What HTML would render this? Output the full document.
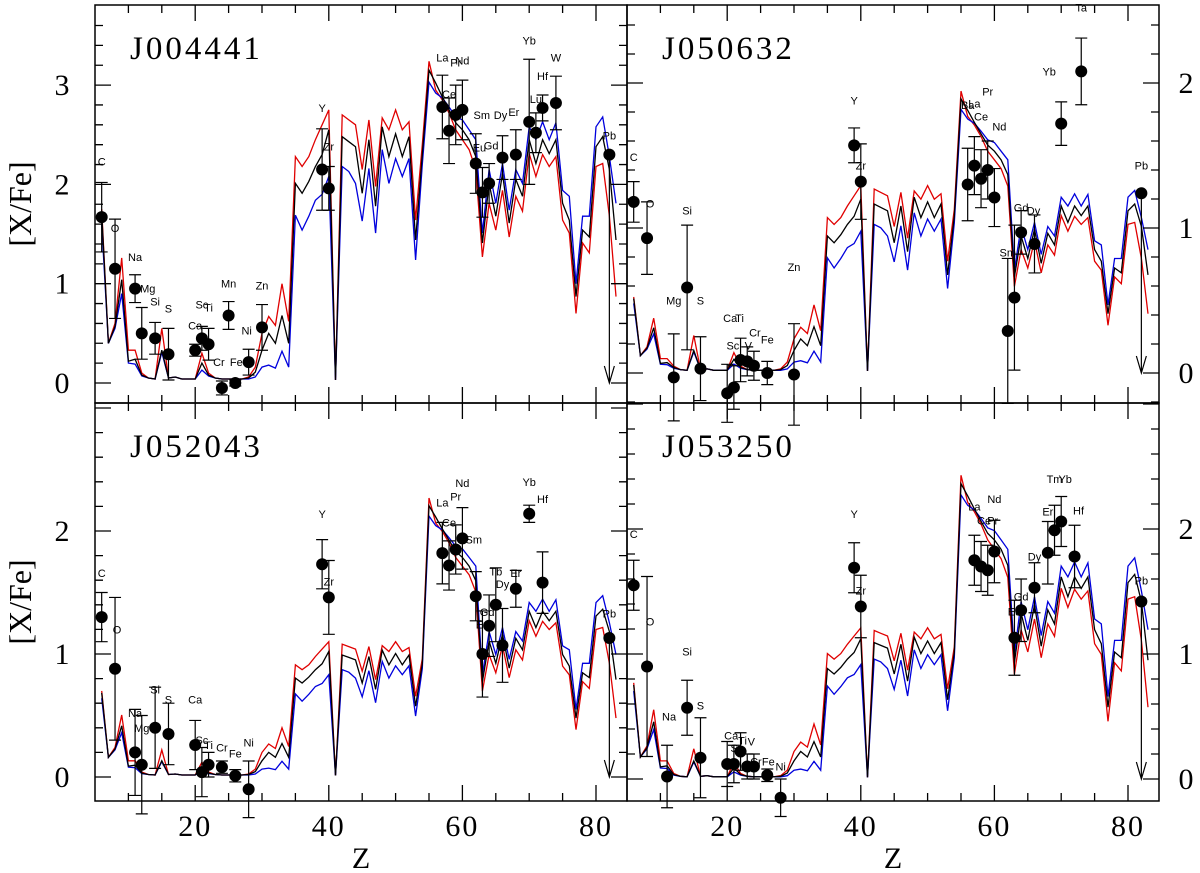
<!DOCTYPE html>
<html><head><meta charset="utf-8"><style>
html,body{margin:0;padding:0;background:#fff;}
svg{display:block;}
.ax{font-family:"Liberation Serif",serif;fill:#000;}
.el{font-family:"Liberation Sans",sans-serif;font-size:11px;fill:#000;}
</style></head><body>
<svg id="chart" width="1200" height="873" viewBox="0 0 1200 873" xmlns="http://www.w3.org/2000/svg"></svg>
<script>
// ---- model base profiles, Z = 6..83 ----
const zStart = 6;
const modelBlack = [1.71,0.40,0.57,1.04,0.22,0.24,0.08,0.05,0.04,0.33,0.05,0.06,0.04,0.04,0.04,0.20,0.08,0.05,0.04,0.04,0.04,0.04,0.05,0.11,0.33,0.50,0.40,0.68,0.40,
 2.01,1.91,2.03,2.18,2.30,2.55,0.03,2.48,2.43,2.38,1.91,2.45,1.78,2.58,2.28,2.51,2.28,2.48,1.44,2.30,3.15,
 3.02,2.88,2.75,2.62,2.55,2.45,2.28,1.41,2.01,1.68,2.11,1.61,2.05,1.88,2.45,2.21,2.45,2.31,2.45,1.81,1.64,0.87,1.54,1.47,2.38,2.48,2.15,1.44];
const modelRed = [1.75,0.40,0.60,1.26,0.33,0.33,0.10,0.05,0.04,0.55,0.05,0.06,0.04,0.04,0.04,0.30,0.10,0.05,0.04,0.04,0.04,0.04,0.06,0.16,0.50,0.67,0.58,1.00,0.62,
 2.28,2.18,2.28,2.45,2.60,2.75,0.03,2.70,2.65,2.60,2.15,2.65,1.98,2.67,2.55,2.75,2.55,2.63,1.64,2.40,3.24,
 2.95,2.85,2.72,2.55,2.45,2.35,2.15,1.27,1.81,1.54,1.94,1.47,1.88,1.73,2.31,2.08,2.30,2.18,2.28,1.64,1.51,0.70,1.41,1.31,2.18,2.21,1.68,0.87];
const modelBlue = [1.60,0.40,0.55,0.90,0.20,0.19,0.07,0.05,0.04,0.31,0.05,0.06,0.04,0.04,0.04,0.13,0.07,0.05,0.04,0.04,0.04,0.04,0.04,0.06,0.16,0.18,0.15,0.32,0.16,
 1.69,1.54,1.68,1.84,1.90,2.08,0.03,2.18,2.13,2.01,1.63,2.16,1.51,2.35,2.01,2.26,2.08,2.26,1.24,2.20,3.03,
 2.92,2.87,2.78,2.68,2.65,2.55,2.45,1.51,2.15,1.81,2.21,1.74,2.15,2.01,2.58,2.45,2.63,2.45,2.62,1.94,1.88,1.00,1.68,1.68,2.58,2.68,2.28,1.81];
// per-star model scale factors: [Z<12, 12<=Z<55, Ba peak (55-62), heavy (>=63)]
const scaleP1 = [1,1,1,1];
const scaleP2 = [0.3,0.47,0.6,0.47];
const scaleP3 = [0.4,0.4,0.7,0.55];
const scaleP4 = [0.44,0.44,0.75,0.66];
// observed abundances: [element, Z, [X/Fe], error, label height, label dx]; error -1 = upper limit
const obsP1 = [['C',6,1.67,.35,2.23],['O',8,1.15,.5,1.56],['Na',11,0.95,.14,1.27],['Mg',12,0.50,.26,0.95,6],['Si',14,0.45,.16,0.82],['S',16,0.29,.26,0.75],
 ['Ca',20,0.33,.06,0.58],['Sc',21,0.45,.12,0.79],['Ti',22,0.39,.16,0.76],['Cr',24,-0.05,.07,0.21,-3],['Mn',25,0.68,.14,1.0],['Fe',26,0.0,.03,0.21,1],
 ['Ni',28,0.21,.13,0.53,-2],['Zn',30,0.56,.23,0.98],['Y',39,2.15,.41,2.77],['Zr',40,1.96,.22,2.38],['La',57,2.78,.32,3.28],['Ce',58,2.54,.33,2.91],
 ['Pr',59,2.70,.3,3.23],['Nd',60,2.75,.3,3.25],['Sm',62,2.21,.3,2.70,6],['Eu',63,1.92,.25,2.37,-3],['Gd',64,2.01,.2,2.39,2],['Dy',66,2.27,.22,2.70,-2],
 ['Er',68,2.30,.25,2.73,-2],['Yb',70,2.63,.63,3.45],['Lu',71,2.52,.2,2.86],['Hf',72,2.77,.13,3.09],['W',74,2.82,.27,3.28],['Pb',82,2.30,-1,2.49]];
const obsP2 = [['C',6,1.18,.14,1.49],['O',8,0.93,.25,1.17,3],['Mg',12,-0.03,.3,0.50],['Si',14,0.59,.43,1.12],['S',16,0.03,.22,0.50],
 ['Ca',20,-0.14,.2,0.38,3],['Sc',21,-0.10,.15,0.19,-1],['Ti',22,0.09,.15,0.38,-1],['V',23,0.08,.1,0.19,1],['Cr',24,0.05,.1,0.28,1],['Fe',26,0.0,.08,0.23],
 ['Zn',30,-0.01,.35,0.73],['Y',39,1.57,.12,1.88],['Zr',40,1.32,.26,1.43],['Ba',56,1.30,.25,1.85],['La',57,1.43,.2,1.86],['Ce',58,1.34,.2,1.77],
 ['Pr',59,1.40,.2,1.94],['Nd',60,1.21,.2,1.70,5],['Sm',62,0.29,.5,0.83],['Eu',63,0.52,.5,''],['Gd',64,0.97,.15,1.14],['Dy',66,0.89,.2,1.12,-1],
 ['Yb',70,1.72,.15,2.08,-12],['Ta',73,2.08,.23,2.52],['Pb',82,1.24,-1,1.43]];
const obsP3 = [['C',6,1.30,.2,1.66],['O',8,0.88,.58,1.20,2],['Na',11,0.20,.35,0.52],['Mg',12,0.10,.4,0.40],['Si',14,0.40,.33,0.71],['S',16,0.35,.25,0.63],
 ['Ca',20,0.26,.2,0.63],['Sc',21,0.04,.2,0.30],['Ti',22,0.10,.1,0.26],['Cr',24,0.08,.05,0.24],['Fe',26,0.01,.05,0.19],['Ni',28,-0.10,.23,0.28],
 ['Y',39,1.73,.2,2.14],['Zr',40,1.46,.3,1.59],['La',57,1.82,.25,2.23],['Ce',58,1.72,.2,2.07],['Pr',59,1.85,.2,2.28],['Nd',60,1.94,.25,2.39],
 ['Sm',62,1.47,.2,1.93,-2],['Eu',63,1.00,.35,1.24],['Gd',64,1.23,.25,1.34,-2],['Tb',65,1.40,.3,1.67],['Dy',66,1.07,.3,1.57],['Er',68,1.53,.15,1.66],
 ['Yb',70,2.14,.07,2.40],['Hf',72,1.58,.25,2.26],['Pb',82,1.13,-1,1.33]];
const obsP4 = [['C',6,1.55,.2,1.96],['O',8,0.90,.72,1.26,3],['Na',11,0.02,.25,0.50,2],['Si',14,0.57,.22,1.02],['S',16,0.17,.32,0.59],
 ['Ca',20,0.12,.18,0.35,4],['Sc',21,0.12,.15,0.25,3],['Ti',22,0.22,.15,0.31,2],['V',23,0.10,.1,0.30,4],['Cr',24,0.10,.1,0.14,2],['Fe',26,0.03,.05,0.14,1],
 ['Ni',28,-0.15,.15,0.10],['Y',39,1.69,.2,2.12],['Zr',40,1.38,.25,1.51],['La',57,1.75,.2,2.18],['Ce',58,1.70,.2,2.07,3],['Pr',59,1.67,.2,2.07,5],
 ['Nd',60,1.82,.25,2.24],['Eu',63,1.13,.3,1.34],['Gd',64,1.35,.25,1.46],['Dy',66,1.53,.2,1.78],['Er',68,1.81,.25,2.14],['Tm',69,1.99,.2,2.40],
 ['Yb',70,2.06,.2,2.40,4],['Hf',72,1.78,.25,2.15,4],['Pb',82,1.42,-1,1.59]];
const yTicksP1 = ['0','1','2','3'];
const yTicksP2 = ['0','1','2'];
const yTicksP3 = ['0','1','2'];
const yTicksP4 = ['0','1','2'];
const xTicks = ['20','40','60','80'];

const NS='http://www.w3.org/2000/svg';
const svg=document.getElementById('chart');
function mk(tag,attrs,parent){const e=document.createElementNS(NS,tag);for(const k in attrs)e.setAttribute(k,attrs[k]);(parent||svg).appendChild(e);return e;}

const panels=[
 {id:'j004441',title:'J004441',x0:95,x1:627,y0:5,y1:403,zero:383,ppu:99.3,vmin:-0.2,vmax:3.8,scale:scaleP1,obs:obsP1,yt:yTicksP1,labSide:'left',xlab:false},
 {id:'j050632',title:'J050632',x0:627,x1:1159,y0:5,y1:403,zero:373,ppu:145,vmin:-0.2,vmax:2.4,scale:scaleP2,obs:obsP2,yt:yTicksP2,labSide:'right',xlab:false},
 {id:'j052043',title:'J052043',x0:95,x1:627,y0:403,y1:801,zero:777,ppu:123,vmin:-0.2,vmax:3.0,scale:scaleP3,obs:obsP3,yt:yTicksP3,labSide:'left',xlab:true},
 {id:'j053250',title:'J053250',x0:627,x1:1159,y0:403,y1:801,zero:779,ppu:125,vmin:-0.2,vmax:3.0,scale:scaleP4,obs:obsP4,yt:yTicksP4,labSide:'right',xlab:true}
];
const PXZ=6.68;

panels.forEach(p=>{
 const g=mk('g',{});
 
 
 const xs=z=>p.x0+(z-5)*PXZ;
 const ys=v=>p.zero-v*p.ppu;
 const cid='clip-'+p.id;
 const cp=mk('clipPath',{id:cid},g);mk('rect',{x:p.x0,y:p.y0,width:p.x1-p.x0,height:p.y1-p.y0},cp);
 const lines=[['red','#e00000',modelRed],['blue','#0000dd',modelBlue],['black','#000',modelBlack]];
 lines.forEach(([nm,col,arr])=>{
  let d='';
  arr.forEach((v,i)=>{const z=zStart+i;const s=z<12?p.scale[0]:(z<55?p.scale[1]:(z<63?p.scale[2]:p.scale[3]));d+=(i?'L':'M')+xs(z).toFixed(1)+' '+ys(v*s).toFixed(1);});
  const pl=mk('path',{d:d,fill:'none',stroke:col,'stroke-width':1.3,'clip-path':'url(#'+cid+')'},g);
  
  
 });
 p.obs.forEach(o=>{
  const [el,z,v,e,lv,dx]=o;
  const x=xs(z),y=ys(v);
  const og=mk('g',{},g);
  
  
  if(e>0){
   const yt=ys(v+e),yb=ys(v-e);
   mk('path',{d:`M${x} ${yt}V${yb}M${x-6} ${yt}H${x+6}M${x-6} ${yb}H${x+6}`,stroke:'#000','stroke-width':1.2,fill:'none'},og);
  } else if(e<0){
   const y0=ys(0);
   mk('path',{d:`M${x} ${y}V${y0}M${x-5} ${y0-17}L${x} ${y0}L${x+5} ${y0-17}`,stroke:'#000','stroke-width':1.2,fill:'none'},og);
  }
  mk('circle',{cx:x,cy:y,r:6,fill:'#000'},og);
  if(lv!==''&&lv!==undefined){
   const t=mk('text',{x:x+(dx||0),y:ys(lv)+4,'text-anchor':'middle',class:'el'},og);
   t.textContent=el;
   
   
  }
 });
 const fr=mk('rect',{x:p.x0,y:p.y0,width:p.x1-p.x0,height:p.y1-p.y0,fill:'none',stroke:'#000','stroke-width':1.5},g);
 
 
 let td='';
 for(let z=10;z<=84;z+=5){const x=xs(z);const L=(z%20===0)?16:8;td+=`M${x} ${p.y1}v${-L}M${x} ${p.y0}v${L}`;}
 for(let k=Math.ceil(p.vmin*5);k<=Math.floor(p.vmax*5);k++){const v=k/5;const y=ys(v);if(y<p.y0+1||y>p.y1-1)continue;const L=(k%5===0)?16:8;td+=`M${p.x0} ${y}h${L}M${p.x1} ${y}h${-L}`;}
 mk('path',{d:td,stroke:'#000','stroke-width':1.3,fill:'none'},g);
 p.yt.forEach(s=>{
  const v=parseFloat(s);
  const t=mk('text',{x:p.labSide==='left'?62:1186,y:ys(v)+10,'text-anchor':'middle','font-size':30,class:'ax'},g);
  t.textContent=s;
  
  
 });
 if(p.xlab){
  xTicks.forEach(s=>{
   const t=mk('text',{x:xs(parseFloat(s)),y:836,'text-anchor':'middle','font-size':30,class:'ax','letter-spacing':'2'},g);
   t.textContent=s;
   
   
  });
  const zt=mk('text',{x:(p.x0+p.x1)/2,y:868,'text-anchor':'middle','font-size':30,class:'ax'},g);
  zt.textContent='Z';
  
  
 }
 const tt=mk('text',{x:p.x0+35,y:p.y0+54,'font-size':33,class:'ax','letter-spacing':'3'},g);
 tt.textContent=p.title;
 
 
 if(p.labSide==='left'){
  const cy=(p.y0+p.y1)/2;
  const yl=mk('text',{x:20,y:cy,'text-anchor':'middle','font-size':32,class:'ax',transform:`rotate(-90 20 ${cy}) translate(0 11)`},g);
  yl.textContent='[X/Fe]';
  
  
 }
});
</script>
</body></html>
